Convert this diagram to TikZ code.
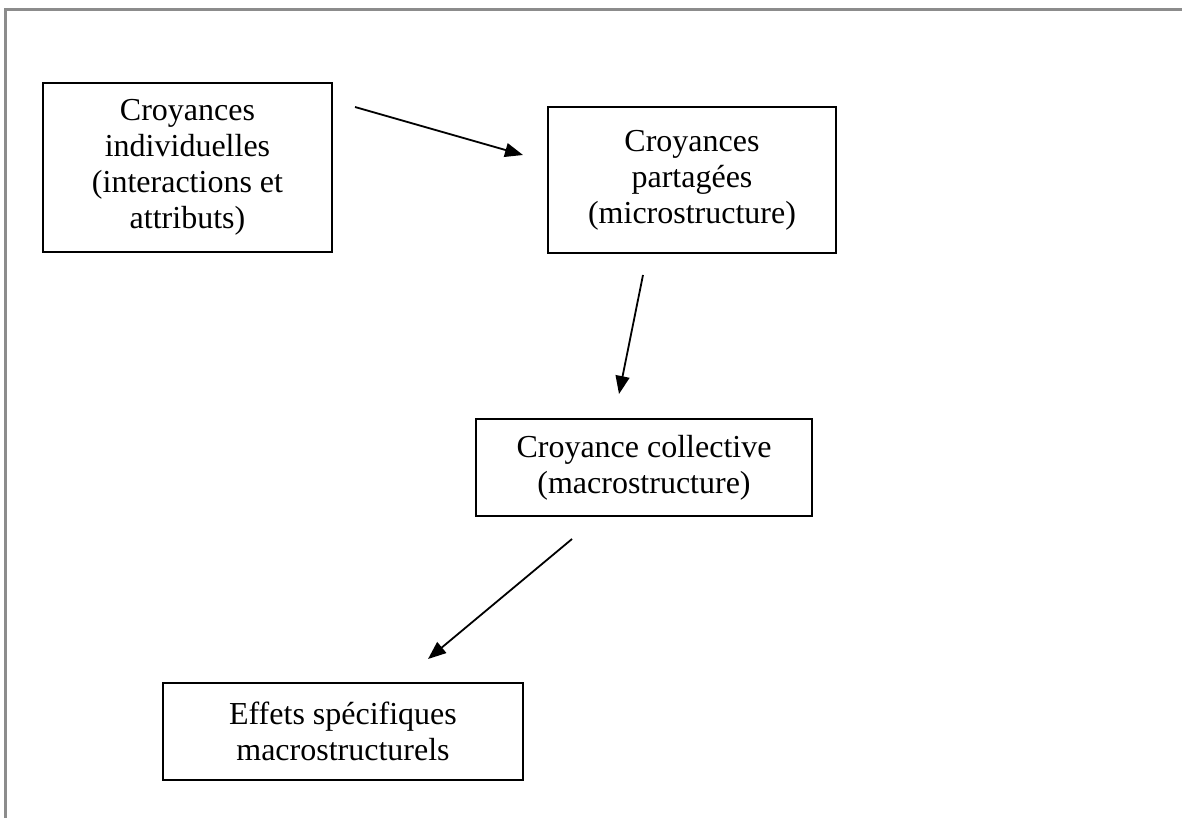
\documentclass[tikz,border=0pt]{standalone}
\usepackage{fontspec}
\setmainfont{Liberation Serif}
\usetikzlibrary{arrows.meta}
\begin{document}
\begin{tikzpicture}[x=1pt,y=-1pt,
  box/.style={draw=black, line width=2pt, rectangle, align=center, inner sep=0pt,
    font=\fontsize{32}{36}\selectfont},
  conn/.style={line width=1.8pt, -{Triangle[length=18pt,width=14pt]}},
  frameline/.style={draw=black!45, line width=3.5pt}]
\useasboundingbox (0,0) rectangle (1182,818);
\fill[white] (0,0) rectangle (1182,818);
% outer frame (cropped)
\coordinate (fa) at (5.5,818);
\coordinate (fb) at (5.5,9.5);
\coordinate (fc) at (1182,9.5);
\draw[frameline] (fa) -- (fb) -- (fc);
% boxes
\node[box, minimum width=289pt, minimum height=169pt] (b1) at (187.5,167.5)
  {Croyances\\individuelles\\(interactions et\\attributs)};
\node[box, minimum width=288pt, minimum height=146pt] (b2) at (692,180)
  {Croyances\\partagées\\(microstructure)};
\node[box, minimum width=336pt, minimum height=97pt] (b3) at (644,467.5)
  {Croyance collective\\(macrostructure)};
\node[box, minimum width=360pt, minimum height=97pt] (b4) at (343,731.5)
  {Effets spécifiques\\macrostructurels};
% connector end points
\coordinate (a1s) at (355,107);
\coordinate (a1e) at (523,155);
\coordinate (a2s) at (643,275);
\coordinate (a2e) at (619,394);
\coordinate (a3s) at (572,539);
\coordinate (a3e) at (428,659);
\draw[conn] (a1s) -- (a1e);
\draw[conn] (a2s) -- (a2e);
\draw[conn] (a3s) -- (a3e);
\end{tikzpicture}
\end{document}
